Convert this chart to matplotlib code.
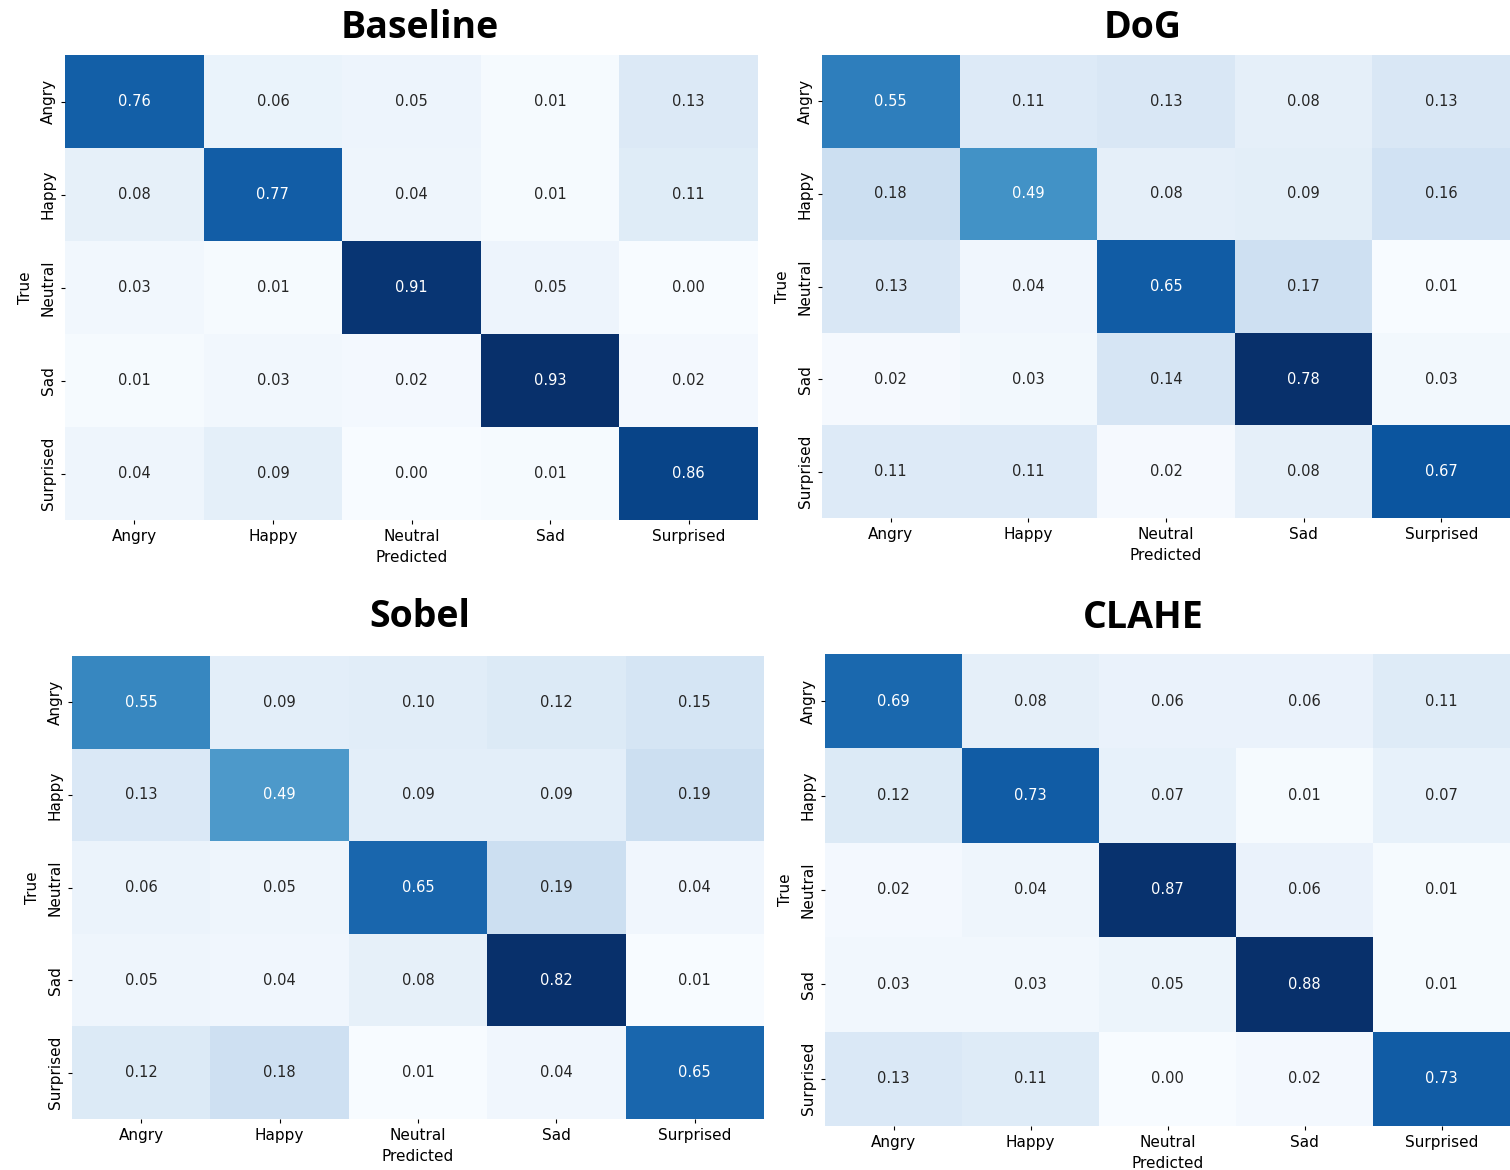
import numpy as np
import matplotlib
matplotlib.use("Agg")
import matplotlib.pyplot as plt
import seaborn as sns

classes = ["Angry", "Happy", "Neutral", "Sad", "Surprised"]

baseline = [
    [0.76, 0.06, 0.05, 0.01, 0.13],
    [0.08, 0.77, 0.04, 0.01, 0.11],
    [0.03, 0.01, 0.91, 0.05, 0.00],
    [0.01, 0.03, 0.02, 0.93, 0.02],
    [0.04, 0.09, 0.00, 0.01, 0.86],
]
dog = [
    [0.55, 0.11, 0.13, 0.08, 0.13],
    [0.18, 0.49, 0.08, 0.09, 0.16],
    [0.13, 0.04, 0.65, 0.17, 0.01],
    [0.02, 0.03, 0.14, 0.78, 0.03],
    [0.11, 0.11, 0.02, 0.08, 0.67],
]
sobel = [
    [0.55, 0.09, 0.10, 0.12, 0.15],
    [0.13, 0.49, 0.09, 0.09, 0.19],
    [0.06, 0.05, 0.65, 0.19, 0.04],
    [0.05, 0.04, 0.08, 0.82, 0.01],
    [0.12, 0.18, 0.01, 0.04, 0.65],
]
clahe = [
    [0.69, 0.08, 0.06, 0.06, 0.11],
    [0.12, 0.73, 0.07, 0.01, 0.07],
    [0.02, 0.04, 0.87, 0.06, 0.01],
    [0.03, 0.03, 0.05, 0.88, 0.01],
    [0.13, 0.11, 0.00, 0.02, 0.73],
]

W, H = 1510, 1170
fig = plt.figure(figsize=(W / 100, H / 100), dpi=100)


def px_rect(x0, y0, x1, y1):
    return [x0 / W, 1 - y1 / H, (x1 - x0) / W, (y1 - y0) / H]


panels = [
    ("Baseline", baseline, px_rect(65, 55, 758, 520), (420, 28)),
    ("DoG", dog, px_rect(822, 55, 1510, 518), (1143, 28)),
    ("Sobel", sobel, px_rect(72, 656, 764, 1119), (420, 617)),
    ("CLAHE", clahe, px_rect(825, 654, 1510, 1126), (1143, 618)),
]

for name, mat, rect, (tx, ty) in panels:
    ax = fig.add_axes(rect)
    sns.heatmap(np.array(mat), annot=True, fmt=".2f", cmap="Blues", cbar=False,
                xticklabels=classes, yticklabels=classes, ax=ax,
                annot_kws={"fontsize": 10.5})
    ax.tick_params(axis="both", labelsize=11, length=3, width=0.8)
    ax.set_yticklabels(classes, rotation=90, va="center")
    ax.set_xticklabels(classes, rotation=0)
    ax.set_xlabel("Predicted", fontsize=11, labelpad=4)
    ax.set_ylabel("True", fontsize=11, labelpad=6)
    fig.text(tx / W, 1 - ty / H, name, ha="center", va="center",
             fontsize=27, fontweight="bold", family="Open Sans")

fig.savefig("out.png", dpi=100)
